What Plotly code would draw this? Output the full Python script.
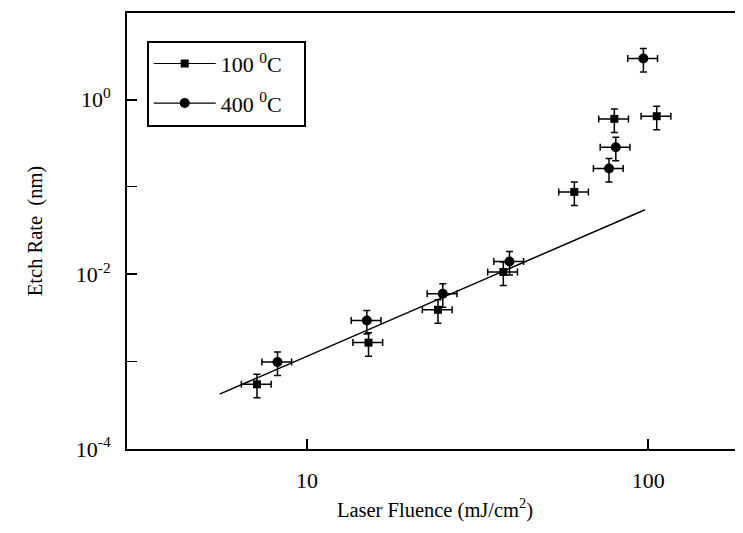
import plotly.graph_objects as go

# Data
fluence_100 = [7.14, 15.15, 24.2, 37.6, 60.7, 79.5, 105.8]
etch_100 = [5.5e-4, 1.65e-3, 3.92e-3, 0.0106, 0.0875, 0.60, 0.644]
fluence_400 = [8.2, 14.98, 25.0, 39.2, 76.7, 80.3, 96.7]
etch_400 = [9.9e-4, 2.95e-3, 5.98e-3, 0.0140, 0.162, 0.284, 2.95]
fit_fluence = [5.55, 97.8]
fit_etch = [4.24e-4, 0.0548]
x_err_pct = 10
y_err_pct = 30

y_tickvals = [1e-4, 1e-2, 1]
y_ticktext = ["10<sup>-4</sup>", "10<sup>-2</sup>", "10<sup>0</sup>"]
y_minorvals = [1e-3, 1e-1]
x_tickvals = [10, 100]
x_ticktext = ["10", "100"]

FONT = "Liberation Serif, Times New Roman, serif"
NB = "\u00a0"

err_x = dict(type="percent", value=x_err_pct, color="black", thickness=1.5, width=3.5)
err_y = dict(type="percent", value=y_err_pct, color="black", thickness=1.5, width=3.5)

fig = go.Figure()
fig.add_trace(go.Scatter(x=fit_fluence, y=fit_etch, mode="lines",
                         line=dict(color="black", width=1.5), showlegend=False))
fig.add_trace(go.Scatter(x=fluence_100, y=etch_100, mode="markers",
                         marker=dict(symbol="square", size=8, color="black"),
                         error_x=err_x, error_y=err_y, showlegend=False))
fig.add_trace(go.Scatter(x=fluence_400, y=etch_400, mode="markers",
                         marker=dict(symbol="circle", size=10, color="black"),
                         error_x=err_x, error_y=err_y, showlegend=False))
# legend entries
fig.add_trace(go.Scatter(x=[None], y=[None], mode="lines+markers",
                         name="100 <sup>0</sup>C" + NB * 3, legendgroup="a",
                         marker=dict(symbol="square", size=8, color="black"),
                         line=dict(color="black", width=1.2)))
fig.add_trace(go.Scatter(x=[None], y=[None], mode="lines+markers",
                         name="400 <sup>0</sup>C" + NB * 3, legendgroup="b",
                         marker=dict(symbol="circle", size=10, color="black"),
                         line=dict(color="black", width=1.2)))

# page body has an 8px margin, so the figure is 8px smaller and offsets reduced
fig.update_layout(
    template="none",
    width=735, height=525,
    margin=dict(l=119, r=0, t=5, b=84, autoexpand=False),
    plot_bgcolor="white", paper_bgcolor="white",
    font=dict(family=FONT, color="black", size=20),
    legend=dict(x=0.032, y=0.9365, xanchor="left", yanchor="top",
                bordercolor="black", borderwidth=2, bgcolor="white",
                font=dict(family=FONT, size=22, color="black"),
                itemwidth=62, tracegroupgap=8),
    xaxis=dict(type="log", range=[0.473, 2.2772], automargin=False,
               tickmode="array", tickvals=x_tickvals, ticktext=x_ticktext,
               ticks="inside", ticklen=10, tickwidth=1.5, tickcolor="black",
               showline=True, linecolor="black", linewidth=2, mirror=True,
               showgrid=False, zeroline=False,
               tickfont=dict(family=FONT, size=22, color="black"),
               ticklabelstandoff=11,
               title=dict(text="Laser Fluence (mJ/cm<sup>2</sup>)",
                          font=dict(family=FONT, size=20.5, color="black"), standoff=10)),
    yaxis=dict(type="log", range=[-4, 0.99], automargin=False,
               tickmode="array", tickvals=y_tickvals, ticktext=y_ticktext,
               ticks="inside", ticklen=10, tickwidth=1.5, tickcolor="black",
               minor=dict(tickmode="array", tickvals=y_minorvals, ticks="inside",
                          ticklen=10, tickwidth=1, tickcolor="black", showgrid=False),
               showline=True, linecolor="black", linewidth=2, mirror=False,
               showgrid=False, zeroline=False,
               tickfont=dict(family=FONT, size=22, color="black"),
               ticklabelstandoff=10,
               title=dict(text="Etch Rate" + NB + " (nm)",
                          font=dict(family=FONT, size=20.5, color="black"), standoff=28)),
)

fig.write_html("out.html")
